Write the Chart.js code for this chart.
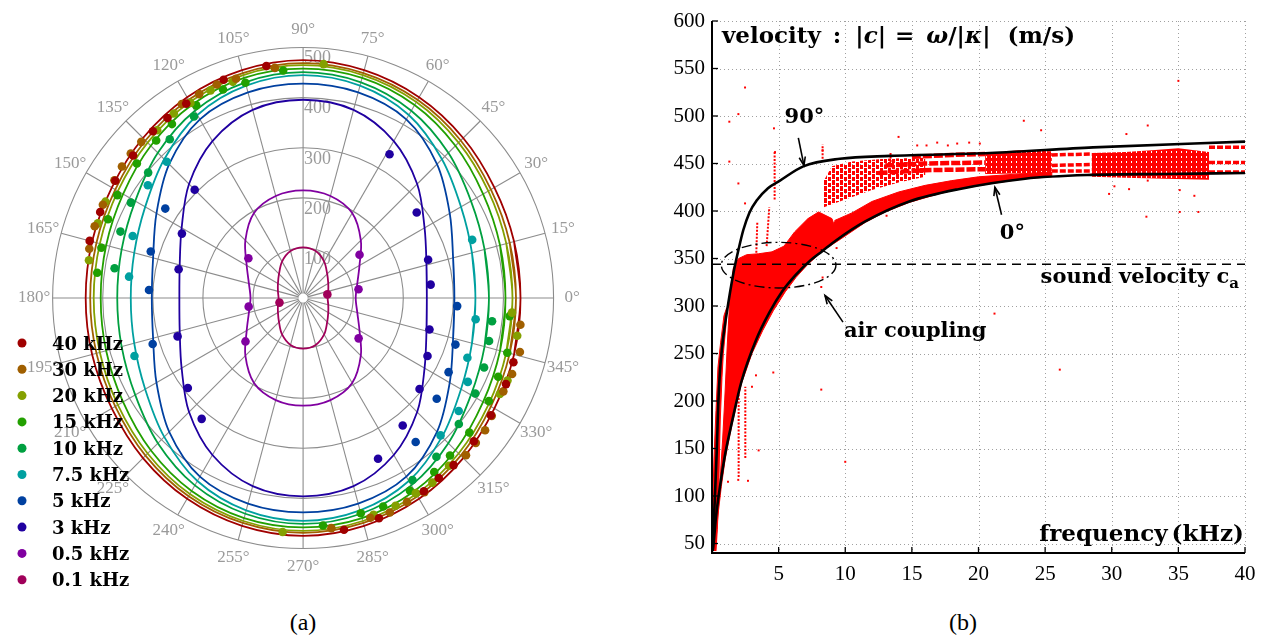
<!DOCTYPE html>
<html>
<head>
<meta charset="utf-8">
<script src="https://cdn.jsdelivr.net/npm/chart.js@4.4.0/dist/chart.umd.min.js"></script>
<style>
  body { margin: 0; background: #fff; width: 1265px; height: 636px; position: relative; overflow: hidden; }
  #polar { position: absolute; left: 0; top: 0; }
  #disp { position: absolute; left: 640px; top: 0; }
  .cap { position: absolute; width: 100px; text-align: center; top: 609px; font: 24px "Liberation Serif", serif; }
</style>
</head>
<body>
<canvas id="polar" width="620" height="600"></canvas>
<canvas id="disp" width="625" height="600"></canvas>
<div class="cap" style="left:253px">(a)</div>
<div class="cap" style="left:913px">(b)</div>
<script>
// ---------- (a) polar plot : velocity (m/s) versus propagation angle ----------
var quarterAngles = [0, 15, 30, 45, 60, 75, 90];   // fitted curves read over one quadrant (plot is symmetric)
var ringValues = [100, 200, 300, 400, 500];
var angleTicks = [0, 15, 30, 45, 60, 75, 90, 105, 120, 135, 150, 165, 180, 195, 210, 225, 240, 255, 270, 285, 300, 315, 330, 345];
var freqLabels = ['40 kHz', '30 kHz', '20 kHz', '15 kHz', '10 kHz', '7.5 kHz', '5 kHz', '3 kHz', '0.5 kHz', '0.1 kHz'];
var freqColors = ['#a00000', '#a05f00', '#84a000', '#22a000', '#00a040', '#00a0a0', '#0040a0', '#2000a0', '#8000a0', '#a0005a'];

var curve40k = [434, 436, 441, 452, 463, 471, 475];
var curve30k = [425, 427, 433, 445, 457, 465, 469];
var curve20k = [418, 420, 427, 439, 452, 461, 465];
var curve15k = [404, 407, 415, 430, 445, 455, 458];
var curve10k = [371, 375, 387, 410, 432, 446, 451];
var curve7k5 = [344, 349, 364, 392, 422, 439, 445];
var curve5k  = [302, 310, 338, 378, 412, 425, 428];
var curve3k  = [247, 255, 280, 322, 362, 389, 396];
var curve05k = [105, 112, 130, 163, 196, 211, 215];
var curve01k = [49, 52, 58, 68, 84, 97, 101];

// measured points [angle deg, velocity]
var dots40k = [[99,469],[110,464],[121,453],[127,450],[132,448],[140,443],[148,442],[157,440],[165,441],
               [280,470],[289,465],[302,455],[307,450],[312,449],[320,445],[328,442],[337,440],[343,439]];
var dots30k = [[97,463],[107,458],[112,460],[117,457],[122,457],[136,449],[140,449],[144,447],[148,444],[155,441],[161,440],[167,438],
               [277,463],[287,459],[292,462],[297,457],[302,457],[316,452],[320,450],[324,449],[328,444],[335,441],[340,444],[346,446],[353,437]];
var dots20k = [[85,469],[108,454],[114,454],[120,450],[125,450],[131,444],[154,439],[160,436],[170,434],
               [265,469],[288,455],[294,454],[300,450],[305,450],[311,444],[334,437],[338,440],[350,434],[356,418]];
var dots15k = [[95,456],[105,445],[111,446],[119,440],[127,435],[133,430],[141,427],[151,424],[158,420],[166,415],[173,414],
               [275,456],[285,445],[291,446],[299,440],[307,435],[313,430],[321,427],[331,424],[338,420],[345,422],[355,414]];
var dots10k = [[121,423],[130,414],[141,398],[151,393],[160,388],[171,381],
               [301,424],[310,414],[321,400],[331,393],[339,387],[347,381],[353,380]];
var dots7k5 = [[19,357],[135,385],[144,383],[160,362],[173,350],[199,356],[315,388],[324,384],[333,369],[340,349],[353,347]];
var dots5k  = [[147,328],[163,318],[177,308],[197,314],[308,365],[323,334],[333,326],[343,318],[357,308]];
var dots3k  = [[59,335],[37,284],[17,261],[6,256],[346,260],[335,274],[322,295],[308,323],[295,354],
               [135,306],[152,274],[167,255],[197,262],[218,292],[230,315]];
var dots05k = [[37.5,142],[9,112],[324,137],[144,135],[189,110],[217,144]];
var dots01k = [[8.5,49],[191,48]];

var fitCurves = [curve40k, curve30k, curve20k, curve15k, curve10k, curve7k5, curve5k, curve3k, curve05k, curve01k];
var measured = [dots40k, dots30k, dots20k, dots15k, dots10k, dots7k5, dots5k, dots3k, dots05k, dots01k];

// layout of the polar panel
var POLAR_CX = 303, POLAR_CY = 298, PX_PER_UNIT = 0.508, LABEL_R = 537;

function toXY(deg, r) {
    var t = deg * Math.PI / 180;
    return {x: r * Math.cos(t), y: r * Math.sin(t)};
}
function quarterValue(vals, deg) {
    var a = ((deg % 360) + 360) % 360;
    if (a > 180) a = 360 - a;
    if (a > 90) a = 180 - a;
    return vals[quarterAngles.indexOf(a)];
}
function ringPoints(vals) {
    var pts = [];
    // one grid step of overlap on each side so the closed curve stays smooth
    for (var i = -1; i <= angleTicks.length + 1; i++) {
        var deg = i * 15;
        pts.push(toXY(deg, quarterValue(vals, deg)));
    }
    return pts;
}

var polarGrid = {
    id: 'polarGrid',
    beforeDatasetsDraw: function(chart) {
        var ctx = chart.ctx, sx = chart.scales.x, sy = chart.scales.y;
        var px = function(deg, r) { var p = toXY(deg, r); return [sx.getPixelForValue(p.x), sy.getPixelForValue(p.y)]; };
        var c = px(0, 0);
        ctx.save();
        ctx.strokeStyle = '#8c8c8c';
        ctx.lineWidth = 1.1;
        ringValues.forEach(function(r) {
            ctx.beginPath();
            ctx.arc(c[0], c[1], sx.getPixelForValue(r) - c[0], 0, Math.PI * 2);
            ctx.stroke();
        });
        angleTicks.forEach(function(deg) {
            var a = px(deg, 9), b = px(deg, 500);
            ctx.beginPath(); ctx.moveTo(a[0], a[1]); ctx.lineTo(b[0], b[1]); ctx.stroke();
        });
        ctx.fillStyle = '#9a9a9a';
        ctx.font = '17px "Liberation Serif"';
        ctx.textAlign = 'center';
        ctx.textBaseline = 'middle';
        angleTicks.forEach(function(deg) {
            var p = px(deg, LABEL_R);
            ctx.fillText(deg + '°', p[0], p[1]);
        });
        ctx.font = '18px "Liberation Serif"';
        ctx.textAlign = 'left';
        ctx.textBaseline = 'top';
        ringValues.forEach(function(r) {
            var p = px(90, r);
            ctx.fillText(String(r), p[0] + 1, p[1] + 2);
        });
        ctx.restore();
    }
};

var polarLegend = {
    id: 'polarLegend',
    afterDraw: function(chart) {
        var ctx = chart.ctx;
        ctx.save();
        ctx.font = 'bold 18px "DejaVu Serif"';
        ctx.textBaseline = 'alphabetic';
        freqLabels.forEach(function(lab, i) {
            var y = 343 + 26.3 * i;
            ctx.fillStyle = freqColors[i];
            ctx.beginPath(); ctx.arc(22, y, 4.5, 0, Math.PI * 2); ctx.fill();
            ctx.fillStyle = '#000';
            ctx.fillText(lab, 52, y + 6.5);
        });
        ctx.restore();
    }
};

var polarSets = [];
fitCurves.forEach(function(vals, i) {
    polarSets.push({type: 'line', data: ringPoints(vals), borderColor: freqColors[i], borderWidth: 1.8,
                    pointRadius: 0, tension: 0.33, fill: false, order: 2});
});
measured.forEach(function(list, i) {
    polarSets.push({type: 'scatter', data: list.map(function(d) { return toXY(d[0], d[1]); }),
                    backgroundColor: freqColors[i], borderWidth: 0, pointRadius: 4.3, order: 1});
});

var pw = 620, ph = 600;
new Chart(document.getElementById('polar'), {
    type: 'scatter',
    data: {datasets: polarSets},
    options: {
        responsive: false, animation: false, devicePixelRatio: 1,
        layout: {padding: 0},
        plugins: {legend: {display: false}, tooltip: {enabled: false}},
        scales: {
            x: {type: 'linear', display: false, min: -POLAR_CX / PX_PER_UNIT, max: (pw - POLAR_CX) / PX_PER_UNIT},
            y: {type: 'linear', display: false, min: -(ph - POLAR_CY) / PX_PER_UNIT, max: POLAR_CY / PX_PER_UNIT}
        }
    },
    plugins: [polarGrid, polarLegend]
});

// ---------- (b) velocity versus frequency ----------
var freqTicks = [5, 10, 15, 20, 25, 30, 35, 40];
var velTicks = [50, 100, 150, 200, 250, 300, 350, 400, 450, 500, 550, 600];

var f0deg = [0.05, 0.1, 0.3, 0.6, 1.0, 1.5, 2.2, 3.3, 4.3, 5.3, 6.3, 7.3, 8.3, 9.3, 11.5, 14.8, 18.5, 23.5, 28.5, 34, 40];
var v0deg = [42, 47, 78, 110, 145, 178, 220, 264, 293, 316, 333, 347, 358, 369, 389, 410, 423, 434, 438, 439, 440];
var f90deg = [0.03, 0.2, 0.35, 0.47, 0.6, 0.8, 1.1, 1.6, 2.0, 2.35, 2.8, 3.35, 4.2, 5.1, 6.85, 9.6, 13.35, 20.85, 28.6, 40];
var v90deg = [45, 93, 145, 197, 232, 262, 292, 334, 360, 380, 398, 411, 424, 432, 447, 455, 458, 461, 467, 473];
var soundSpeed = 344;
var airEllipse = [5.0, 343, 4.3, 24];   // centre f, centre v, half width (kHz), half height (m/s)

// measured dispersion cloud, outlined as regions [f, v]
var redCloud = [[0.25,45],[0.45,80],[0.7,110],[1.0,140],[1.5,175],[2.2,218],[3.0,250],[3.8,274],[4.6,295],[5.5,315],[6.3,330],
                [7.2,344],[8.0,354],[8.8,364],[9.4,376],[9.0,392],[8.0,399],[7.2,392],[6.2,378],[5.4,363],[4.5,357],[3.5,355],
                [2.6,354],[2.0,350],[1.6,340],[1.35,310],[1.15,260],[0.95,200],[0.8,160],[0.6,115],[0.4,75]];
var redStrip = [[0.0,42],[0.05,90],[0.15,140],[0.3,190],[0.45,236],[0.65,262],[0.9,290],[1.1,298],[1.05,280],[0.85,250],
                [0.75,225],[0.62,180],[0.55,140],[0.5,100],[0.4,65],[0.3,42]];
var redBand0 = [[8.5,360],[9.5,369],[11.5,388],[13,399],[14.8,409],[17,418],[18.5,423],[21,429],[23.5,434],[25.5,436],
                [25.5,441],[23,439],[20,436],[18,432],[16,427],[14,420],[12,410],[10.5,398],[9.2,390]];
var redStreakZone = [[8.4,404],[10,412],[12,422],[14,430],[16,436],[16,456],[13,455],[10.5,452],[9,447],[8.4,432]];
var redDense = [[20.5,439],[25.5,440],[25.5,463],[23,464],[20.5,460]];
var redCluster = [[28.5,436],[31,435],[34,434],[37.3,433],[37.3,462],[35,466],[33,464],[31,462],[28.5,461]];
var redStreaks = [[[15,457],[18,459],[20.5,460]], [[13,448],[16,450],[20.5,451]], [[12.5,440],[16,443],[20.5,444]]];
var redDashes = [[[25.5,459],[28.5,460]], [[25.5,448],[28.5,449]], [[25.5,442],[28.5,442]],
                 [[37.3,467],[40,467]], [[37.3,451],[40,451]], [[37.3,441],[40,441]]];
var redSpikes = [[[4.1,363],[4.3,404]], [[3.3,345],[3.4,388]], [[2.0,120],[2.0,225]], [[2.5,140],[2.5,215]],
                 [[4.7,412],[4.7,463]], [[8.3,455],[8.3,470]], [[13.4,448],[13.4,462]]];
var redOutliers = [[1.3,494],[1.98,502],[2.48,530],[1.3,452],[1.98,429],[2.48,408],[4.65,487],[4.73,462],[8.3,464],
                   [14.0,478],[15.4,469],[16.1,469],[16.9,472],[17.7,469],[18.4,471],[19.3,472],[20.1,471],
                   [23.4,495],[24.7,485],[31.1,481],[32.7,490],[35.0,537],[32.6,394],[35.1,399],[36.5,399],[29.8,418],
                   [30.2,426],[31.3,423],[35.1,422],[36.2,416],[32.7,432],[21.2,292],[26.1,233],[8.2,212],[10.0,136],
                   [3.5,148],[1.97,117],[2.7,116],[1.2,115],[4.6,230],[3.0,215],[3.3,227],[8.2,320],[8.3,330],
                   [9.35,361],[13.1,395]];

function pts(list) { return list.map(function(p) { return {x: p[0], y: p[1]}; }); }
function chains(list) {
    var out = [];
    list.forEach(function(seg) {
        seg.forEach(function(p) { out.push({x: p[0], y: p[1]}); });
        out.push({x: seg[seg.length - 1][0], y: null});
    });
    return out;
}
// small red textures so the scattered zones look like dense dots rather than flat paint
function texture(w, h, rects) {
    var c = document.createElement('canvas');
    c.width = w; c.height = h;
    var g = c.getContext('2d');
    g.fillStyle = '#ff0000';
    rects.forEach(function(r) { g.fillRect(r[0], r[1], r[2], r[3]); });
    return g.createPattern(c, 'repeat');
}
var streakTex = texture(8, 6, [[0, 0, 3, 5], [4, 3, 3, 3], [4, 0, 3, 1]]);
var speckTex = texture(5, 5, [[0, 0, 5, 1], [0, 1, 1, 4], [2, 1, 3, 2], [1, 3, 4, 2]]);
function region(list, fillStyle) {
    return {type: 'line', data: pts(list), fill: 'shape', backgroundColor: fillStyle, borderColor: '#ff0000',
            borderWidth: fillStyle === '#ff0000' ? 1 : 0, pointRadius: 0, tension: 0, order: 6};
}

var frame = {
    id: 'frame',
    beforeDatasetsDraw: function(chart) {
        var ctx = chart.ctx, a = chart.chartArea, sx = chart.scales.x, sy = chart.scales.y;
        ctx.save();
        ctx.strokeStyle = '#a0a0a0';
        ctx.lineWidth = 1;
        ctx.setLineDash([1, 3]);
        freqTicks.forEach(function(v) {
            var x = Math.round(sx.getPixelForValue(v)) + 0.5;
            ctx.beginPath(); ctx.moveTo(x, a.top); ctx.lineTo(x, a.bottom); ctx.stroke();
        });
        velTicks.forEach(function(v) {
            var y = Math.round(sy.getPixelForValue(v)) + 0.5;
            ctx.beginPath(); ctx.moveTo(a.left, y); ctx.lineTo(a.right, y); ctx.stroke();
        });
        ctx.restore();
    },
    afterDatasetsDraw: function(chart) {
        var ctx = chart.ctx, a = chart.chartArea, sx = chart.scales.x, sy = chart.scales.y;
        ctx.save();
        ctx.strokeStyle = '#000';
        ctx.lineWidth = 2;
        ctx.beginPath();
        ctx.moveTo(a.left, a.top); ctx.lineTo(a.left, a.bottom); ctx.lineTo(a.right, a.bottom);
        ctx.stroke();
        ctx.lineWidth = 1.3;
        freqTicks.forEach(function(v) {
            var x = sx.getPixelForValue(v);
            ctx.beginPath(); ctx.moveTo(x, a.bottom); ctx.lineTo(x, a.bottom - 6); ctx.stroke();
        });
        velTicks.forEach(function(v) {
            var y = sy.getPixelForValue(v);
            ctx.beginPath(); ctx.moveTo(a.left, y); ctx.lineTo(a.left + 6, y); ctx.stroke();
        });
        ctx.restore();
    }
};

// parts: [text, italic, subscript] or a number = extra gap in px
function runs(ctx, x, y, parts, size, alignRight) {
    var fontFor = function(p) { return (p[1] ? 'italic ' : '') + 'bold ' + Math.round(size * (p[2] ? 0.72 : 1)) + 'px "DejaVu Serif"'; };
    var widthOf = function(p) {
        if (typeof p === 'number') return p;
        ctx.font = fontFor(p);
        return ctx.measureText(p[0]).width;
    };
    if (alignRight) {
        var w = 0;
        parts.forEach(function(p) { w += widthOf(p); });
        x -= w;
    }
    parts.forEach(function(p) {
        if (typeof p !== 'number') {
            ctx.font = fontFor(p);
            ctx.fillText(p[0], x, y + (p[2] ? size * 0.22 : 0));
        }
        x += widthOf(p);
    });
}
function arrow(ctx, x0, y0, x1, y1) {
    var ang = Math.atan2(y1 - y0, x1 - x0), h = 9;
    ctx.beginPath(); ctx.moveTo(x0, y0); ctx.lineTo(x1, y1); ctx.stroke();
    ctx.beginPath();
    ctx.moveTo(x1 - h * Math.cos(ang - 0.35), y1 - h * Math.sin(ang - 0.35));
    ctx.lineTo(x1, y1);
    ctx.lineTo(x1 - h * Math.cos(ang + 0.35), y1 - h * Math.sin(ang + 0.35));
    ctx.stroke();
}

var notes = {
    id: 'notes',
    afterDatasetsDraw: function(chart) {
        var ctx = chart.ctx, a = chart.chartArea, sx = chart.scales.x, sy = chart.scales.y;
        var X = function(f) { return sx.getPixelForValue(f); }, Y = function(v) { return sy.getPixelForValue(v); };
        ctx.save();
        ctx.strokeStyle = '#000';
        ctx.fillStyle = '#000';
        ctx.lineWidth = 1.4;
        ctx.setLineDash([10, 4, 2, 4]);
        ctx.beginPath();
        ctx.ellipse(X(airEllipse[0]), Y(airEllipse[1]), X(airEllipse[0] + airEllipse[2]) - X(airEllipse[0]),
                    Y(airEllipse[1] - airEllipse[3]) - Y(airEllipse[1]), 0, 0, Math.PI * 2);
        ctx.stroke();
        ctx.setLineDash([]);
        ctx.lineWidth = 1.6;
        arrow(ctx, X(6.48), Y(477), X(6.9), Y(448));
        arrow(ctx, X(21.73), Y(396), X(21.23), Y(425));
        arrow(ctx, X(9.83), Y(283), X(8.48), Y(311));
        ctx.textBaseline = 'alphabetic';
        runs(ctx, a.left + 10, a.top + 22,
             [['velocity'], 12, [':'], 14, ['|'], ['c', 1], ['|'], 9, ['='], 12, ['ω', 1], ['/|'], ['κ', 1], ['|'], 17, ['(m/s)']], 23);
        runs(ctx, X(5.45), Y(493), [['90°']], 21);
        runs(ctx, X(21.6), Y(371), [['0°']], 21);
        runs(ctx, X(9.9), Y(267), [['air coupling']], 21);
        runs(ctx, a.right - 6, Y(soundSpeed) + 19, [['sound velocity c'], ['a', 0, 1]], 21, true);
        runs(ctx, a.right - 1, a.bottom - 12, [['frequency'], 4, ['(kHz)']], 23, true);
        ctx.restore();
    }
};

var tickFont = {family: 'Liberation Serif', size: 21};
new Chart(document.getElementById('disp'), {
    type: 'scatter',
    data: {
        datasets: [
            {type: 'line', data: f0deg.map(function(f, i) { return {x: f, y: v0deg[i]}; }), borderColor: '#000',
             borderWidth: 2.6, pointRadius: 0, cubicInterpolationMode: 'monotone', fill: false, order: 0},
            {type: 'line', data: f90deg.map(function(f, i) { return {x: f, y: v90deg[i]}; }), borderColor: '#000',
             borderWidth: 2.6, pointRadius: 0, cubicInterpolationMode: 'monotone', fill: false, order: 0},
            {type: 'line', data: [{x: 0, y: soundSpeed}, {x: 40, y: soundSpeed}], borderColor: '#000', borderWidth: 1.5,
             borderDash: [9, 6], pointRadius: 0, fill: false, order: 1},
            {type: 'scatter', data: pts(redOutliers), backgroundColor: '#ff0000', borderWidth: 0, pointStyle: 'rect',
             pointRadius: 1.4, order: 3},
            {type: 'line', data: chains(redDashes), borderColor: '#ff0000', borderWidth: 3.5, borderDash: [6, 2],
             pointRadius: 0, fill: false, spanGaps: false, order: 4},
            {type: 'line', data: chains(redStreaks), borderColor: '#ff0000', borderWidth: 4.5, borderDash: [9, 2],
             pointRadius: 0, fill: false, spanGaps: false, order: 4},
            {type: 'line', data: chains(redSpikes), borderColor: '#ff0000', borderWidth: 2, borderDash: [2, 1.5],
             pointRadius: 0, fill: false, spanGaps: false, order: 4},
            region(redCloud, '#ff0000'),
            region(redStrip, '#ff0000'),
            region(redBand0, '#ff0000'),
            region(redStreakZone, streakTex),
            region(redDense, speckTex),
            region(redCluster, speckTex)
        ]
    },
    options: {
        responsive: false, animation: false, devicePixelRatio: 1,
        layout: {padding: {top: 21, right: 20, left: 0, bottom: 0}},
        plugins: {legend: {display: false}, tooltip: {enabled: false}},
        scales: {
            x: {type: 'linear', min: 0, max: 40,
                grid: {display: false, drawTicks: false}, border: {display: false},
                afterBuildTicks: function(s) { s.ticks = freqTicks.map(function(v) { return {value: v}; }); },
                afterFit: function(s) { s.height = 47; },
                ticks: {color: '#000', font: tickFont, padding: 9, maxRotation: 0, autoSkip: false}},
            y: {type: 'linear', min: 40, max: 600,
                grid: {display: false, drawTicks: false}, border: {display: false},
                afterBuildTicks: function(s) { s.ticks = velTicks.map(function(v) { return {value: v}; }); },
                afterFit: function(s) { s.width = 72; },
                ticks: {color: '#000', font: tickFont, padding: 7, autoSkip: false}}
        }
    },
    plugins: [frame, notes]
});
</script>
</body>
</html>
